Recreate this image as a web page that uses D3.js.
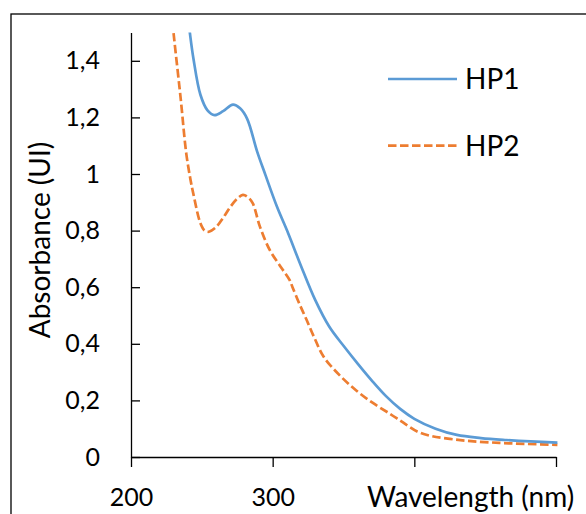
<!DOCTYPE html>
<html lang="en">
<head>
  <meta charset="UTF-8">
  <title>Absorbance HP1 / HP2</title>
  <script src="https://d3js.org/d3.v7.min.js"></script>
  <style>
    body {
      margin: 0;
      background: #fff;
      font-family: Lato, "Open Sans", sans-serif;
    }
    .axis path, .axis line {
      stroke: #000;
      stroke-width: 1.3px;
    }
    .axis text {
      font-family: Lato, "Open Sans", sans-serif;
      font-size: 25px;
      fill: #000;
    }
    .title {
      font-size: 28px;
      fill: #000;
    }
  </style>
</head>
<body>
  <svg width="586" height="514"></svg>

  <script>
    // wavelength (nm) / absorbance
    const hp1Wavelength = [225, 235, 241, 244, 249, 254, 259, 265, 272, 277, 282, 289, 295, 303, 311, 320, 330, 340, 350, 360, 370, 380, 390, 400, 415, 430, 447, 465, 482, 501];
    const hp1Values = [2.2, 1.75, 1.52, 1.41, 1.28, 1.225, 1.208, 1.222, 1.245, 1.232, 1.195, 1.08, 0.995, 0.885, 0.79, 0.675, 0.555, 0.46, 0.393, 0.33, 0.27, 0.215, 0.17, 0.135, 0.10, 0.078, 0.067, 0.060, 0.055, 0.051];

    const hp2Wavelength = [215, 222, 226, 230, 235, 239, 242, 244, 249, 252, 255, 260, 265, 270, 275, 279, 283, 286, 291, 298, 306, 312, 314, 319, 324, 330, 336, 347, 359, 371, 383, 392, 402, 412, 425, 440, 460, 480, 501];
    const hp2Values = [2.3, 1.9, 1.7, 1.5, 1.27, 1.073, 0.98, 0.93, 0.826, 0.80, 0.796, 0.812, 0.845, 0.883, 0.913, 0.926, 0.916, 0.896, 0.814, 0.731, 0.67, 0.625, 0.60, 0.54, 0.484, 0.415, 0.354, 0.29, 0.235, 0.19, 0.152, 0.122, 0.09, 0.074, 0.064, 0.056, 0.050, 0.046, 0.043];

    const seriesNames = ['HP1', 'HP2'];
    const xTicks = [200, 300, 400, 500];
    const xTickLabels = ['200', '300', '', ''];
    const yTicks = [0, 0.2, 0.4, 0.6, 0.8, 1, 1.2, 1.4];

    const svg = d3.select('svg');

    // outer chart frame (runs past the cropped right/bottom edge)
    svg.append('rect')
      .attr('x', 11).attr('y', 14)
      .attr('width', 620).attr('height', 540)
      .attr('fill', 'none')
      .attr('stroke', '#000')
      .attr('stroke-width', 1.3);

    const x = d3.scaleLinear().domain([200, 500]).range([131, 556]);
    const y = d3.scaleLinear().domain([0, 1.5]).range([457, 32.5]);

    const fmt = d3.formatLocale({ decimal: ',', thousands: ' ', grouping: [3], currency: ['', ''] }).format('~g');

    svg.append('clipPath').attr('id', 'plot')
      .append('rect')
      .attr('x', x(200)).attr('y', y(1.5))
      .attr('width', x(500) - x(200) + 4)
      .attr('height', y(0) - y(1.5));

    const series = [
      { name: seriesNames[0], data: hp1Wavelength.map((w, i) => [w, hp1Values[i]]), color: '#5B9BD5', dash: null },
      { name: seriesNames[1], data: hp2Wavelength.map((w, i) => [w, hp2Values[i]]), color: '#ED7D31', dash: '8.5,3.5' }
    ];

    const line = d3.line()
      .x(d => x(d[0]))
      .y(d => y(d[1]))
      .curve(d3.curveCatmullRom.alpha(0.5));

    svg.append('g')
      .attr('clip-path', 'url(#plot)')
      .selectAll('path')
      .data(series.slice().reverse())
      .join('path')
      .attr('d', d => line(d.data))
      .attr('fill', 'none')
      .attr('stroke', d => d.color)
      .attr('stroke-width', 2.7)
      .attr('stroke-dasharray', d => d.dash);

    // y axis, ticks pointing inward
    svg.append('g')
      .attr('class', 'axis')
      .attr('transform', `translate(${x(200)},0)`)
      .call(d3.axisLeft(y).tickValues(yTicks).tickFormat(fmt)
        .tickSizeInner(-9).tickSizeOuter(0).tickPadding(31));

    // x axis, ticks pointing down
    svg.append('g')
      .attr('class', 'axis')
      .attr('transform', `translate(0,${y(0)})`)
      .call(d3.axisBottom(x).tickValues(xTicks)
        .tickFormat((d, i) => xTickLabels[i])
        .tickSize(10).tickSizeOuter(0).tickPadding(21));

    svg.append('text')
      .attr('class', 'title')
      .attr('x', 367).attr('y', 507)
      .text('Wavelength (nm)');

    svg.append('text')
      .attr('class', 'title')
      .attr('transform', 'translate(50,240) rotate(-90)')
      .attr('text-anchor', 'middle')
      .text('Absorbance (UI)');

    // legend
    const legend = svg.append('g')
      .selectAll('g')
      .data(series)
      .join('g')
      .attr('transform', (d, i) => `translate(388,${79 + i * 66.7})`);

    legend.append('line')
      .attr('x1', 0).attr('x2', 69)
      .attr('stroke', d => d.color)
      .attr('stroke-width', 2.7)
      .attr('stroke-dasharray', d => d.dash);

    legend.append('text')
      .attr('class', 'title')
      .attr('x', 77).attr('y', 10)
      .text(d => d.name);
  </script>
</body>
</html>
